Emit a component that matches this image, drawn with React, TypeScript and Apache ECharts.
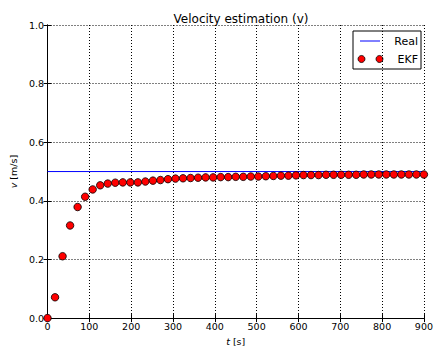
import React, { useEffect, useRef } from "react";
import * as echarts from "echarts";

const times = [
  0, 18, 36, 54, 72, 90, 108, 126, 144, 162, 180, 198, 216, 234, 252, 270, 288,
  306, 324, 342, 360, 378, 396, 414, 432, 450, 468, 486, 504, 522, 540, 558,
  576, 594, 612, 630, 648, 666, 684, 702, 720, 738, 756, 774, 792, 810, 828,
  846, 864, 882, 900,
];
const ekf = [
  0.0, 0.071, 0.211, 0.316, 0.379, 0.414, 0.439, 0.453, 0.459, 0.462, 0.463,
  0.463, 0.463, 0.466, 0.469, 0.471, 0.474, 0.476, 0.477, 0.478, 0.479, 0.48,
  0.48, 0.481, 0.481, 0.482, 0.482, 0.483, 0.483, 0.484, 0.485, 0.486, 0.486,
  0.487, 0.488, 0.488, 0.488, 0.489, 0.489, 0.489, 0.489, 0.489, 0.49, 0.49,
  0.49, 0.49, 0.49, 0.49, 0.49, 0.49, 0.49,
];
const realT = [0, 900];
const realV = [0.5, 0.5];

const FONT = "DejaVu Sans";

export default function App() {
  const ref = useRef<HTMLDivElement>(null);
  useEffect(() => {
    if (!ref.current) return;
    const chart = echarts.init(ref.current, undefined, { renderer: "svg" });
    const grid = { left: 46, right: 9, top: 25, bottom: 29.5 };
    const tickCommon = {
      axisTick: { show: true, inside: true, length: 4, lineStyle: { color: "#000" } },
      axisLine: { show: true, lineStyle: { color: "#000", width: 1 } },
    };
    chart.setOption({
      animation: false,
      backgroundColor: "#fff",
      title: {
        text: "Velocity estimation (v)",
        left: 236,
        top: 8,
        textAlign: "center",
        textStyle: { fontFamily: FONT, fontSize: 12, fontWeight: "normal", color: "#000" },
      },
      grid,
      xAxis: [
        {
          type: "value",
          min: 0,
          max: 900,
          interval: 100,
          ...tickCommon,
          axisLabel: { fontFamily: FONT, fontSize: 9.5, color: "#000", margin: 3 },
          splitLine: { show: true, lineStyle: { color: "#000", type: [1, 2], width: 1 } },
          name: "{i|t} [s]",
          nameLocation: "middle",
          nameGap: 14,
          nameTextStyle: {
            fontFamily: FONT,
            fontSize: 9.5,
            color: "#000",
            rich: { i: { fontStyle: "italic", fontFamily: FONT, fontSize: 9.5 } },
          },
        },
        {
          type: "value",
          position: "top",
          min: 0,
          max: 900,
          interval: 100,
          ...tickCommon,
          axisLabel: { show: false },
          splitLine: { show: false },
        },
      ],
      yAxis: [
        {
          type: "value",
          min: 0,
          max: 1,
          interval: 0.2,
          ...tickCommon,
          axisLabel: {
            fontFamily: FONT,
            fontSize: 9.5,
            color: "#000",
            margin: 3.5,
            formatter: (v: number) => v.toFixed(1),
          },
          splitLine: { show: true, lineStyle: { color: "#000", type: [1, 2], width: 1 } },
          name: "{i|v} [m/s]",
          nameLocation: "middle",
          nameGap: 25,
          nameTextStyle: {
            fontFamily: FONT,
            fontSize: 9.5,
            color: "#000",
            rich: { i: { fontStyle: "italic", fontFamily: FONT, fontSize: 9.5 } },
          },
        },
        {
          type: "value",
          position: "right",
          min: 0,
          max: 1,
          interval: 0.2,
          ...tickCommon,
          axisLabel: { show: false },
          splitLine: { show: false },
        },
      ],
      series: [
        {
          name: "Real",
          type: "line",
          data: realT.map((t, i) => [t, realV[i]]),
          symbol: "none",
          lineStyle: { color: "#0000ff", width: 1, opacity: 1 },
          z: 2,
        },
        {
          name: "EKF",
          type: "scatter",
          data: times.map((t, i) => [t, ekf[i]]),
          symbol: "circle",
          symbolSize: 7.5,
          itemStyle: { color: "#ff0000", borderColor: "#000", borderWidth: 0.8, opacity: 1 },
          z: 3,
        },
      ],
      graphic: [
        {
          type: "group",
          z: 100,
          children: [
            {
              type: "rect",
              shape: { x: 353, y: 31, width: 68, height: 38 },
              style: { fill: "#fff", stroke: "#000", lineWidth: 1 },
            },
            {
              type: "line",
              shape: { x1: 360, y1: 41, x2: 380, y2: 41 },
              style: { stroke: "#0000ff", lineWidth: 1 },
            },
            {
              type: "text",
              x: 418,
              y: 41,
              style: {
                text: "Real",
                align: "right",
                verticalAlign: "middle",
                fontFamily: FONT,
                fontSize: 11,
                fill: "#000",
              },
            },
            {
              type: "circle",
              shape: { cx: 361.5, cy: 59, r: 3.5 },
              style: { fill: "#ff0000", stroke: "#000", lineWidth: 0.8 },
            },
            {
              type: "circle",
              shape: { cx: 379.5, cy: 59, r: 3.5 },
              style: { fill: "#ff0000", stroke: "#000", lineWidth: 0.8 },
            },
            {
              type: "text",
              x: 418,
              y: 59,
              style: {
                text: "EKF",
                align: "right",
                verticalAlign: "middle",
                fontFamily: FONT,
                fontSize: 11,
                fill: "#000",
              },
            },
          ],
        },
      ],
    });
    return () => chart.dispose();
  }, []);
  return (
    <div
      ref={ref}
      style={{ position: "fixed", left: 0, top: 0, width: 436, height: 351, background: "#fff" }}
    />
  );
}
